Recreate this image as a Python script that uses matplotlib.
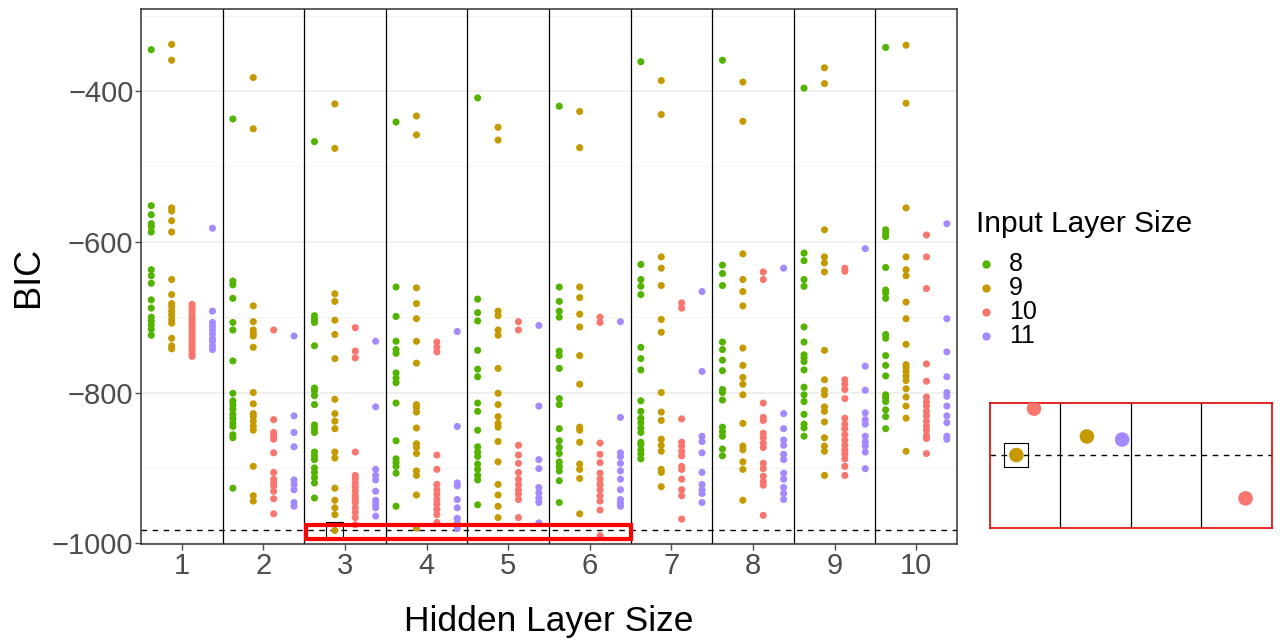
import matplotlib
matplotlib.use("Agg")
import matplotlib.pyplot as plt
from matplotlib.patches import Rectangle

plt.rcParams["font.family"] = ["Liberation Sans", "DejaVu Sans"]

hidden_sizes = [1, 2, 3, 4, 5, 6, 7, 8, 9, 10]
input_sizes = [8, 9, 10, 11]
input_colors = ["#53B400", "#C49A00", "#F8766D", "#A58AFF"]

# BIC per hidden layer size (outer list) for each input layer size
bic_in8 = [
    [-345, -552, -564, -576, -580, -587, -637, -645, -655, -677, -688, -700, -705, -710, -716, -724],
    [-437, -652, -657, -675, -707, -717, -758, -801, -811, -816, -822, -829, -834, -840, -845, -856, -860, -927],
    [-467, -698, -703, -707, -738, -794, -798, -804, -816, -843, -848, -853, -879, -884, -889, -900, -906, -913, -920, -940],
    [-441, -660, -699, -732, -743, -748, -774, -781, -787, -814, -864, -888, -893, -898, -907, -951],
    [-409, -676, -694, -705, -744, -769, -779, -814, -825, -850, -872, -879, -885, -895, -902, -910, -916, -949],
    [-420, -660, -679, -692, -700, -745, -751, -768, -808, -816, -848, -864, -873, -881, -892, -898, -904, -917, -946],
    [-361, -630, -650, -659, -670, -740, -755, -770, -811, -825, -834, -840, -847, -853, -866, -869, -876, -881, -888],
    [-359, -631, -642, -658, -733, -743, -757, -771, -796, -800, -810, -846, -852, -858, -875, -884],
    [-396, -615, -625, -650, -659, -713, -733, -750, -754, -759, -770, -793, -803, -812, -829, -842, -847, -858],
    [-342, -584, -589, -593, -634, -664, -668, -675, -723, -728, -751, -764, -778, -803, -807, -812, -823, -832, -848],
]
bic_in9 = [
    [-338, -359, -555, -559, -572, -587, -650, -670, -682, -686, -692, -697, -703, -708, -728, -738, -742],
    [-382, -450, -685, -706, -717, -722, -725, -740, -800, -815, -828, -832, -838, -845, -850, -898, -937, -944],
    [-417, -476, -669, -679, -704, -723, -755, -809, -828, -838, -848, -879, -887, -927, -943, -953, -962, -983],
    [-433, -458, -661, -682, -702, -732, -761, -816, -820, -826, -847, -868, -873, -881, -904, -910, -936, -980],
    [-448, -465, -692, -698, -717, -724, -768, -801, -816, -832, -841, -846, -865, -892, -922, -936, -951, -966],
    [-427, -475, -660, -674, -696, -713, -751, -789, -846, -850, -866, -895, -902, -914, -961],
    [-386, -431, -620, -635, -658, -703, -720, -800, -826, -837, -862, -870, -878, -902, -906, -925],
    [-388, -440, -616, -650, -666, -685, -741, -764, -780, -789, -803, -841, -871, -876, -892, -902, -943],
    [-369, -390, -584, -620, -628, -640, -744, -783, -797, -803, -819, -825, -839, -860, -871, -878, -910],
    [-339, -416, -555, -620, -637, -645, -680, -702, -736, -763, -767, -772, -778, -784, -795, -806, -818, -834, -878],
]
bic_in10 = [
    [-683, -688, -692, -697, -701, -705, -709, -713, -717, -721, -725, -729, -733, -737, -741, -745, -749, -752],
    [-717, -836, -853, -857, -862, -880, -906, -915, -920, -924, -931, -941, -961],
    [-714, -745, -754, -879, -910, -914, -920, -925, -931, -937, -942, -946, -953, -959, -966, -975.5],
    [-733, -740, -746, -883, -902, -922, -929, -935, -942, -948, -955, -962, -972.5],
    [-706, -717, -870, -883, -894, -906, -915, -922, -929, -935, -942, -966],
    [-700, -707, -867, -882, -893, -907, -915, -922, -929, -937, -944, -956, -990],
    [-681, -688, -835, -866, -871, -878, -884, -898, -902, -915, -929, -937, -968],
    [-640, -650, -814, -833, -837, -854, -860, -867, -873, -894, -901, -911, -918, -923, -963],
    [-635, -639, -783, -789, -796, -808, -834, -842, -848, -856, -863, -870, -876, -882, -888, -898, -910],
    [-591, -620, -662, -762, -785, -806, -812, -818, -825, -831, -838, -845, -850, -857, -861, -881],
]
bic_in11 = [
    [-582, -692, -707, -712, -717, -722, -728, -732, -738, -743],
    [-725, -831, -853, -872, -916, -922, -929, -946, -951],
    [-732, -819, -902, -910, -916, -931, -943, -948, -953, -964],
    [-719, -845, -920, -924, -942, -953, -967, -973, -980.5],
    [-711, -818, -889, -901, -926, -933, -940, -946, -973],
    [-706, -833, -880, -885, -894, -904, -915, -929, -942, -947, -951],
    [-666, -772, -858, -865, -880, -906, -922, -929, -934, -946],
    [-635, -828, -848, -863, -870, -882, -889, -907, -915, -926, -934, -942],
    [-609, -765, -797, -827, -836, -842, -858, -865, -871, -879, -901],
    [-576, -702, -746, -779, -800, -805, -818, -831, -840, -858, -862],
]
bic_by_input = [bic_in8, bic_in9, bic_in10, bic_in11]

best_hidden = 3
best_input = 9
best_bic = -983
zoom_x = (2.5, 6.5)
zoom_y = (-995, -975.2)
inset_y = (-994.8, -974.6)

dodge = [-0.375, -0.125, 0.125, 0.375]


def draw_points(ax, size, hidden_range=None):
    for series, color, offset in zip(bic_by_input, input_colors, dodge):
        for h, values in zip(hidden_sizes, series):
            if hidden_range and not (hidden_range[0] <= h <= hidden_range[1]):
                continue
            ax.scatter([h + offset] * len(values), values, s=size, color=color,
                       edgecolors="none", zorder=3)


fig = plt.figure(figsize=(12.8, 6.43), dpi=100)
ax = fig.add_axes([0.1102, 0.154, 0.6375, 0.832])

ax.set_xlim(0.5, 10.5)
ax.set_ylim(-1001, -291)
ax.set_yticks([-400, -600, -800, -1000])
ax.set_yticks([-300, -500, -700, -900], minor=True)
ax.set_yticklabels(["\u2212400", "\u2212600", "\u2212800", "\u22121000"])
ax.set_xticks(hidden_sizes)
ax.grid(True, axis="y", which="major", color="#EBEBEB", linewidth=1.1, zorder=0)
ax.grid(True, axis="y", which="minor", color="#F2F2F2", linewidth=0.6, zorder=0)
ax.set_axisbelow(True)
for side in ax.spines.values():
    side.set_color("#333333")
    side.set_linewidth(1.1)
ax.tick_params(axis="both", which="major", colors="#4D4D4D", labelsize=21,
               length=4, width=1, pad=1.5)
ax.tick_params(axis="y", which="minor", length=0)

for h in hidden_sizes[:-1]:
    ax.axvline(h + 0.5, color="black", linewidth=0.9, zorder=1)

draw_points(ax, 26)
ax.axhline(best_bic, color="black", linestyle=(0, (4, 4)), linewidth=1, zorder=2)
ax.scatter([best_hidden - 0.125], [best_bic], marker="s", s=150,
           facecolors="none", edgecolors="black", linewidths=0.8, zorder=4)
ax.add_patch(Rectangle((zoom_x[0] + 0.02, zoom_y[0]), zoom_x[1] - zoom_x[0] - 0.02,
                       zoom_y[1] - zoom_y[0], fill=False, edgecolor="#FF0000",
                       linewidth=3, zorder=5))

ax.set_xlabel("Hidden Layer Size", fontsize=25.5, labelpad=18)
ax.set_ylabel("BIC", fontsize=26, labelpad=4)

# legend
for i, (size, color) in enumerate(zip(input_sizes, input_colors)):
    y = 0.589 - i * 0.0373
    fig.lines.append(plt.Line2D([0.7703], [y], marker="o", markersize=5, color=color,
                                linestyle="none", transform=fig.transFigure))
    fig.text(0.7885, y, str(size), fontsize=18, va="center", ha="left")
fig.text(0.7625, 0.651, "Input Layer Size", fontsize=21.5, va="center", ha="left")

# zoomed inset of the lowest BIC region
inset = fig.add_axes([0.7734, 0.1788, 0.2203, 0.1944])
inset.set_xlim(*zoom_x)
inset.set_ylim(*inset_y)
inset.set_xticks([])
inset.set_yticks([])
for side in inset.spines.values():
    side.set_color("#E00000")
    side.set_linewidth(1.2)
for h in [3.5, 4.5, 5.5]:
    inset.axvline(h, color="black", linewidth=0.9, zorder=1)
draw_points(inset, 110, hidden_range=(3, 6))
inset.axhline(best_bic, color="black", linestyle=(0, (4, 4)), linewidth=1, zorder=2)
inset.scatter([best_hidden - 0.125], [best_bic], marker="s", s=300,
              facecolors="none", edgecolors="black", linewidths=0.8, zorder=4)

fig.savefig("out.png", dpi=100)
